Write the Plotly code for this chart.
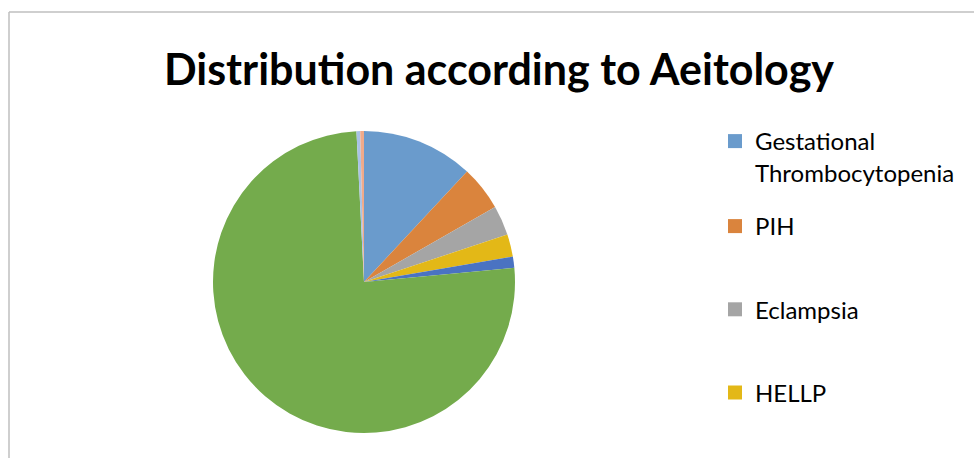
import plotly.graph_objects as go

labels = ["Gestational Thrombocytopenia", "PIH", "Eclampsia", "HELLP",
          "Other 1", "Other 2", "Other 3", "Other 4"]
values = [30, 12, 8, 6, 3, 190, 1, 1]
colors = ["#6A9BCC", "#DA843D", "#A5A5A5", "#E3B817", "#4A73C2",
          "#74AB4C", "#A9C2E6", "#F0AA8A"]
legend_labels = ["Gestational<br>Thrombocytopenia", "PIH", "Eclampsia", "HELLP"]

W, H = 974, 458
cx, cy, r = 364, 282, 151

fig = go.Figure()
fig.add_trace(go.Pie(
    labels=labels, values=values, sort=False, direction="clockwise",
    rotation=0, textinfo="none", hoverinfo="label+value+percent",
    marker=dict(colors=colors, line=dict(width=0)), showlegend=False,
    domain=dict(x=[(cx - r) / W, (cx + r) / W], y=[1 - (cy + r) / H, 1 - (cy - r) / H]),
))
for i, lab in enumerate(legend_labels):
    fig.add_trace(go.Scatter(
        x=[None], y=[None], mode="markers", name=lab, legendgroup=f"g{i}",
        legend="legend" if i == 0 else "legend2",
        marker=dict(symbol="square", size=14, color=colors[i]),
    ))

leg_common = dict(xanchor="left", yanchor="top",
                  font=dict(family="Lato", size=24, color="#000"),
                  valign="top", bgcolor="rgba(0,0,0,0)")
fig.update_layout(
    width=W, height=H, margin=dict(l=0, r=0, t=0, b=0),
    paper_bgcolor="white", plot_bgcolor="white",
    font=dict(family="Lato", color="#000"),
    title=dict(text="<b>Distribution according to Aeitology</b>",
               font=dict(family="Lato", size=43, color="#000"),
               x=499 / W, xanchor="center", y=1 - 70 / H, yanchor="middle"),
    xaxis=dict(visible=False), yaxis=dict(visible=False),
    legend=dict(x=715 / W, y=1 - 119 / H, **leg_common),
    legend2=dict(x=715 / W, y=1 - 204 / H, tracegroupgap=49, **leg_common),
    shapes=[
        dict(type="line", xref="paper", yref="paper", x0=9 / W, x1=1, y0=1 - 12 / H, y1=1 - 12 / H,
             line=dict(color="#BFBFBF", width=1.5)),
        dict(type="line", xref="paper", yref="paper", x0=9 / W, x1=9 / W, y0=0, y1=1 - 12 / H,
             line=dict(color="#BFBFBF", width=1.5)),
    ],
)
fig.write_html("out.html", config={"displayModeBar": False},
               post_script="document.body.style.margin='0';")
